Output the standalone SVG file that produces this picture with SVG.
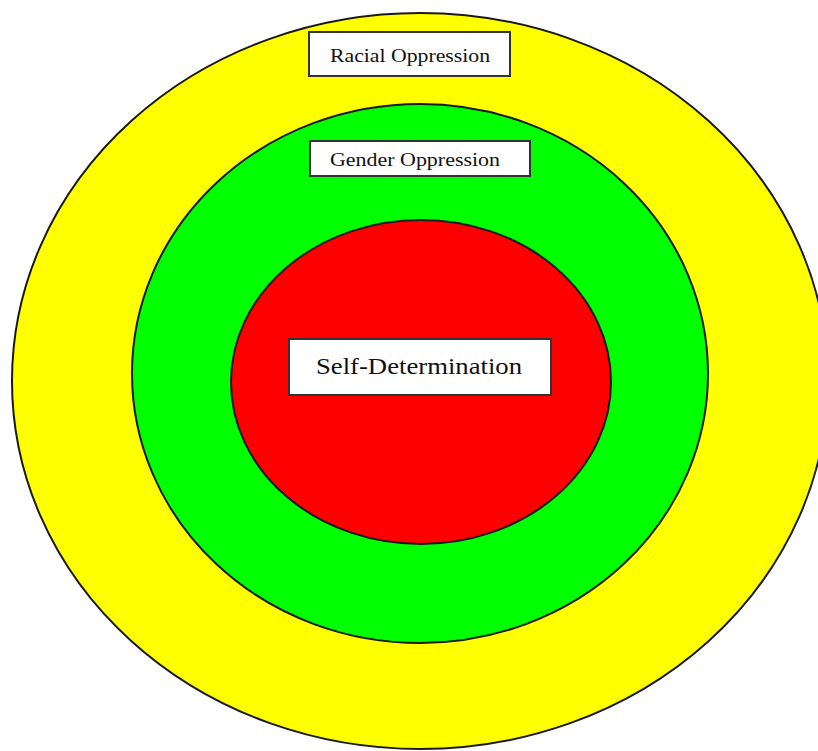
<svg xmlns="http://www.w3.org/2000/svg" width="818" height="751" viewBox="0 0 818 751">
<style>
.ring{stroke:#1a1a1a;stroke-width:2}
.box{fill:#fff;stroke:#333;stroke-width:2}
.lbl{font-family:"Liberation Serif","DejaVu Serif",serif;fill:#111;text-anchor:middle;dominant-baseline:central;lengthAdjust:spacingAndGlyphs}
</style>
<rect width="818" height="751" fill="#fff"/>
<g id="racial">
<ellipse class="ring" cx="420" cy="381" rx="408" ry="368" fill="#ffff00"/>
<rect class="box" x="309" y="32" width="201" height="44"/>
<text class="lbl" x="410" y="55" font-size="19" textLength="160" lengthAdjust="spacingAndGlyphs">Racial Oppression</text>
</g>
<g id="gender">
<ellipse class="ring" cx="420" cy="373.5" rx="288" ry="269.5" fill="#00ff00"/>
<rect class="box" x="310" y="141" width="220" height="35"/>
<text class="lbl" x="415" y="159" font-size="19" textLength="170" lengthAdjust="spacingAndGlyphs">Gender Oppression</text>
</g>
<g id="self">
<ellipse class="ring" cx="421" cy="382" rx="190" ry="162" fill="#ff0000"/>
<rect class="box" x="289" y="339" width="262" height="56"/>
<text class="lbl" x="419" y="366" font-size="23" textLength="206" lengthAdjust="spacingAndGlyphs">Self-Determination</text>
</g>
<g id="connectors"/>
</svg>
